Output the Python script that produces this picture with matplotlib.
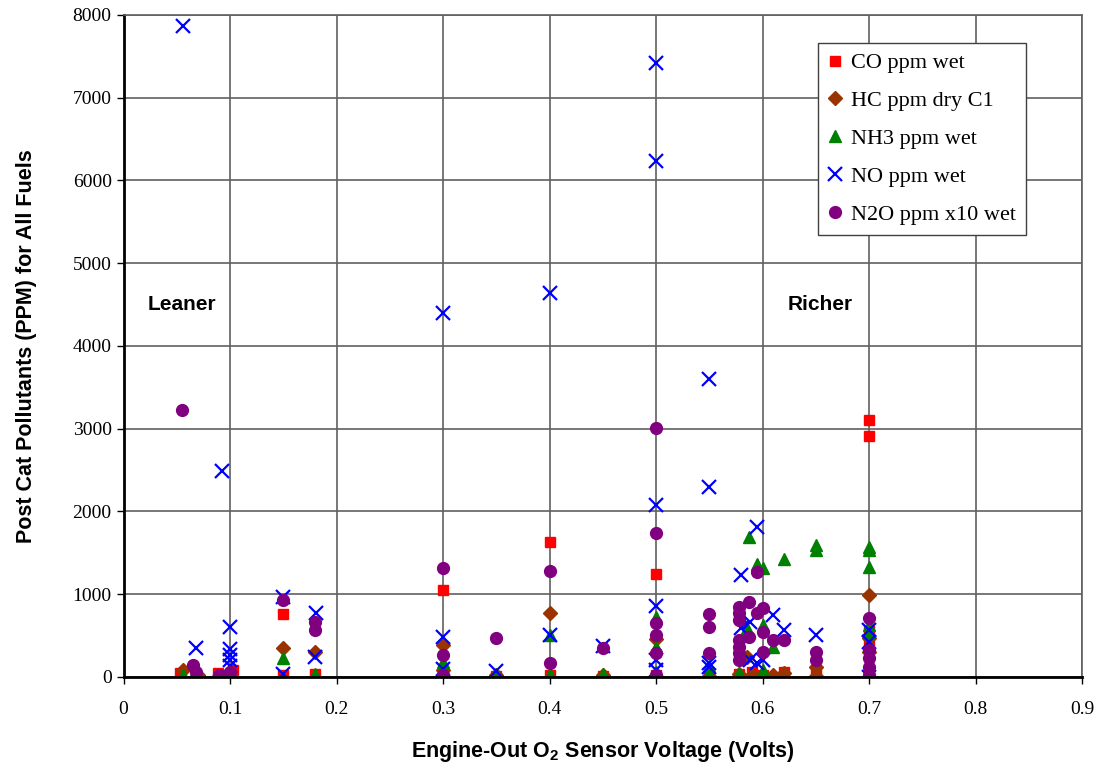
import matplotlib
matplotlib.use("Agg")
import matplotlib.pyplot as plt
from matplotlib.ticker import MultipleLocator

# Post-catalyst pollutant concentrations vs engine-out O2 sensor voltage
co_x = [0.053, 0.089, 0.103, 0.15, 0.15, 0.18, 0.3, 0.3, 0.35, 0.4, 0.4, 0.45,
        0.5, 0.5, 0.55, 0.578, 0.59, 0.60, 0.62, 0.65, 0.7, 0.7, 0.7, 0.7, 0.7]
co_y = [50, 50, 85, 760, 20, 30, 1050, 20, 10, 1630, 20, 10,
        1250, 20, 10, 40, 60, 20, 64, 30, 3110, 2910, 550, 410, 20]

hc_x = [0.056, 0.07, 0.09, 0.15, 0.18, 0.3, 0.3, 0.35, 0.4, 0.45, 0.5, 0.55,
        0.578, 0.585, 0.59, 0.6, 0.61, 0.62, 0.65, 0.65, 0.7, 0.7, 0.7]
hc_y = [85, 20, 10, 350, 300, 390, 80, 20, 770, 20, 460, 10,
        40, 246, 20, 24, 20, 48, 125, 10, 990, 467, 300]

nh3_x = [0.056, 0.065, 0.07, 0.1, 0.15, 0.18, 0.18, 0.3, 0.3, 0.35, 0.4, 0.4,
         0.45, 0.5, 0.5, 0.5, 0.55, 0.55, 0.578, 0.585, 0.587, 0.595, 0.6, 0.6,
         0.6, 0.61, 0.62, 0.65, 0.65, 0.7, 0.7, 0.7, 0.7, 0.7]
nh3_y = [20, 10, 0, 10, 230, 40, 10, 180, 30, 30, 510, 30,
         40, 730, 360, 60, 130, 40, 48, 590, 1690, 1370, 1320, 628,
         85, 366, 1420, 1600, 1530, 1570, 1530, 1330, 628, 530]

no_x = [0.056, 0.092, 0.068, 0.1, 0.1, 0.1, 0.1, 0.1, 0.15, 0.15, 0.181, 0.18,
        0.3, 0.3, 0.3, 0.35, 0.4, 0.4, 0.45, 0.5, 0.5, 0.5, 0.5, 0.5, 0.5,
        0.55, 0.55, 0.55, 0.55, 0.58, 0.595, 0.61, 0.62, 0.588, 0.58, 0.65,
        0.6, 0.588, 0.595, 0.7, 0.7, 0.7]
no_y = [7870, 2490, 350, 600, 340, 260, 200, 130, 970, 30, 770, 240,
        4400, 480, 100, 70, 4640, 510, 370, 7420, 6230, 2080, 860, 200, 80,
        3600, 2300, 170, 120, 1233, 1810, 749, 568, 668, 590, 508,
        205, 205, 170, 568, 427, 0]

n2o_x = [0.055, 0.065, 0.068, 0.09, 0.098, 0.1, 0.15, 0.18, 0.18, 0.3, 0.3, 0.3,
         0.35, 0.4, 0.4, 0.45, 0.5, 0.5, 0.5, 0.5, 0.5, 0.5, 0.55, 0.55, 0.55,
         0.578, 0.578, 0.578, 0.578, 0.578, 0.578, 0.578, 0.587, 0.595, 0.595,
         0.6, 0.6, 0.587, 0.61, 0.62, 0.6, 0.65, 0.65, 0.7, 0.7, 0.7, 0.7, 0.7]
n2o_y = [3230, 145, 64, 24, 4, 60, 930, 668, 568, 1313, 266, 20,
         470, 1285, 173, 347, 3010, 1744, 657, 508, 294, 20, 757, 608, 294,
         850, 770, 690, 450, 366, 290, 205, 910, 1265, 770,
         830, 548, 487, 447, 447, 306, 298, 205, 709, 326, 226, 125, 24]

x_ticks = [0, 0.1, 0.2, 0.3, 0.4, 0.5, 0.6, 0.7, 0.8, 0.9]
x_tick_labels = ["0", "0.1", "0.2", "0.3", "0.4", "0.5", "0.6", "0.7", "0.8", "0.9"]

series = [
    ("CO ppm wet", co_x, co_y, dict(marker="s", color="#FF0000", ms=7.5, mec="#FF0000")),
    ("HC ppm dry C1", hc_x, hc_y, dict(marker="D", color="#993300", ms=7, mec="#993300")),
    ("NH3 ppm wet", nh3_x, nh3_y, dict(marker="^", color="#008000", ms=9, mec="#008000")),
    ("NO ppm wet", no_x, no_y, dict(marker="x", color="#0000FF", ms=10, mew=1.6)),
    ("N2O ppm x10 wet", n2o_x, n2o_y, dict(marker="o", color="#800080", ms=8.5, mec="#800080")),
]

serif = "Liberation Serif"
sans = "Liberation Sans"

fig = plt.figure(figsize=(11.04, 7.76), dpi=100)
ax = fig.add_axes([0.1119, 0.1276, 0.8682, 0.8531])

for label, xs, ys, style in series:
    ax.plot(xs, ys, linestyle="none", label=label, **style)

ax.set_xlim(0, 0.9)
ax.set_ylim(0, 8000)
ax.set_xticks(x_ticks)
ax.set_xticklabels(x_tick_labels)
ax.yaxis.set_major_locator(MultipleLocator(1000))
ax.grid(True, color="#606060", linewidth=1.2)
ax.set_axisbelow(True)

for side in ("top", "right"):
    ax.spines[side].set_color("#606060")
    ax.spines[side].set_linewidth(1.2)
for side in ("left", "bottom"):
    ax.spines[side].set_color("black")
    ax.spines[side].set_linewidth(2)

ax.tick_params(axis="both", direction="out", length=5, width=1, color="black",
               labelsize=14)
ax.tick_params(axis="x", pad=12)
for lbl in ax.get_xticklabels() + ax.get_yticklabels():
    lbl.set_fontfamily(serif)

ax.set_xlabel("Engine-Out O$_\\mathregular{2}$ Sensor Voltage (Volts)",
              fontsize=15.5, fontweight="bold", fontfamily=sans)
ax.xaxis.set_label_coords(0.5, -0.094)
ax.set_ylabel("Post Cat Pollutants (PPM) for All Fuels",
              fontsize=15.5, fontweight="bold", fontfamily=sans)
ax.yaxis.set_label_coords(-0.09, 0.5)

ax.text(0.055, 4500, "Leaner", fontsize=15, fontweight="bold", fontfamily=sans,
        ha="center", va="center")
ax.text(0.654, 4500, "Richer", fontsize=15, fontweight="bold", fontfamily=sans,
        ha="center", va="center")

leg = ax.legend(loc="upper left", bbox_to_anchor=(0.7246, 0.958), borderaxespad=0,
                prop={"family": serif, "size": 16}, frameon=True, fancybox=False,
                labelspacing=0.78, handletextpad=0.45, handlelength=0.6,
                borderpad=0.45, numpoints=1)
leg.get_frame().set_edgecolor("#404040")
leg.get_frame().set_linewidth(1)
leg.get_frame().set_facecolor("white")
leg.get_frame().set_alpha(1)

fig.savefig("out.png", dpi=100)
